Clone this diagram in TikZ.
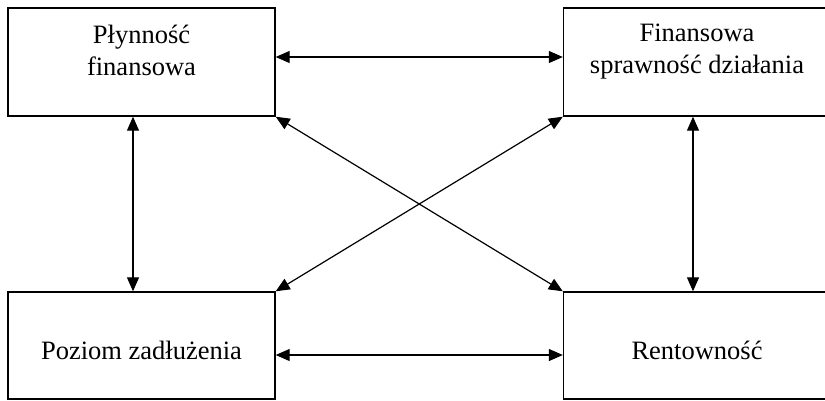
\documentclass[tikz,border=0pt]{standalone}
\usepackage{fontspec}
\setmainfont{Liberation Serif}
\usetikzlibrary{arrows.meta}
\newcommand{\boxfont}{\fontsize{26.5}{32}\selectfont}

\begin{document}
\begin{tikzpicture}[
  x=1pt,
  y=-1pt,
  every node/.style={font=\boxfont, black},
  block/.style={draw, line width=1.4pt, inner sep=0pt,
                minimum width=267pt, minimum height=108pt},
  boxtext/.style={align=center, inner sep=0pt},
  link/.style={line width=1.2pt,
               {Triangle[length=14pt, width=12pt]}-{Triangle[length=14pt, width=12pt]}}
]
  % ---- page frame (right and bottom boxes run past it) ----
  \useasboundingbox (0,0) rectangle (825,400);

  % ---- boxes ----
  \node[block] (plyn) at (141.5,62)    {};
  \node[block] (spraw) at (697,62)     {};
  \node[block, minimum height=107pt] (zadl) at (141.5,345.5) {};
  \node[block, minimum height=107pt] (rent) at (697,345.5)   {};

  % ---- box texts (set a little off centre, as in the original) ----
  \node[boxtext] (tplyn)  at ([yshift=12pt]plyn.center)  {Płynność\\finansowa};
  \node[boxtext] (tspraw) at ([yshift=10pt]spraw.center) {Finansowa\\sprawność działania};
  \node[boxtext] (tzadl)  at ([yshift=-4.5pt]zadl.center) {Poziom zadłużenia};
  \node[boxtext] (trent)  at ([yshift=-4.5pt]rent.center) {Rentowność};

  % ---- horizontal links ----
  \draw[link] ([yshift=5pt]plyn.east) -- ([yshift=5pt]spraw.west);
  \draw[link] ([yshift=-9.5pt]zadl.east) -- ([yshift=-9.5pt]rent.west);

  % ---- vertical links ----
  \draw[link] ([xshift=-8.5pt]plyn.south) -- ([xshift=-8.5pt]zadl.north);
  \draw[link] ([xshift=-4pt]spraw.south) -- ([xshift=-4pt]rent.north);

  % ---- diagonal links ----
  \draw[link] (plyn.south east) -- (rent.north west);
  \draw[link] (spraw.south west) -- (zadl.north east);
\end{tikzpicture}
\end{document}
